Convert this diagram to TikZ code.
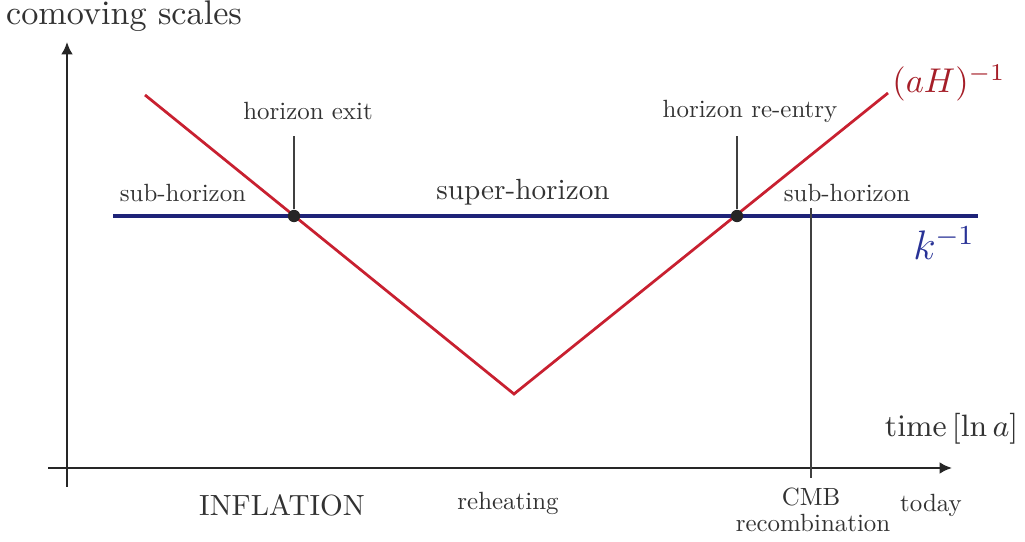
\documentclass[tikz,border=0pt]{standalone}
\usetikzlibrary{arrows.meta}
\definecolor{redline}{RGB}{200,32,48}
\definecolor{redlabel}{RGB}{165,30,40}
\definecolor{blueline}{RGB}{30,35,120}
\definecolor{bluelabel}{RGB}{40,50,150}
\definecolor{txt}{RGB}{50,50,50}
\tikzset{
  axis/.style={line width=0.6pt, draw=black!85, -{Latex[length=3.6pt,width=3.4pt]}},
  marker/.style={line width=0.4pt, draw=black!75},
  redcurve/.style={line width=0.8pt, draw=redline, line join=miter},
  bluecurve/.style={line width=1.3pt, draw=blueline},
  dot/.style={circle, fill=black!85, inner sep=0pt, minimum size=3.6pt},
  lbl/.style={text=txt, inner sep=0pt, font=\fontsize{10}{12}\selectfont, scale=0.725},
  biglbl/.style={text=txt, inner sep=0pt, font=\fontsize{10}{12}\selectfont, scale=0.85},
}
\begin{document}
\begin{tikzpicture}[x=0.291pt,y=-0.291pt]
\useasboundingbox (0,0) rectangle (1025,542);
% axes
\coordinate (ybot) at (67,487);
\coordinate (ytop) at (67,42);
\coordinate (xleft) at (48,468);
\coordinate (xright) at (952,468);
\draw[axis] (ybot) -- (ytop);
\draw[axis] (xleft) -- (xright);
\node[text=txt, inner sep=0pt, font=\fontsize{9.95}{12}\selectfont] (ylab) at (124,16) {comoving scales};
\node[text=txt, inner sep=0pt, anchor=east, font=\fontsize{9.5}{12}\selectfont] (xlab) at (1019,429) {$\mathrm{time}\,[\ln a]$};
% blue k^-1 line
\coordinate (b1) at (113,216);
\coordinate (b2) at (978,216);
\draw[bluecurve] (b1) -- (b2);
% red (aH)^-1
\coordinate (r1) at (145,95);
\coordinate (r2) at (514,394);
\coordinate (r3) at (888,93);
\draw[redcurve] (r1) -- (r2) -- (r3);
% crossing points
\node[dot] (exit) at (294,216) {};
\node[dot] (reentry) at (737,216) {};
\coordinate (exittop) at (294,136);
\coordinate (reentrytop) at (737,136);
\draw[marker] (exit) -- (exittop);
\draw[marker] (reentry) -- (reentrytop);
% CMB marker
\coordinate (cmbtop) at (811,208);
\coordinate (cmbbot) at (811,478);
\draw[marker] (cmbtop) -- (cmbbot);
% labels
\node[lbl] (lexit) at (308,111) {horizon exit};
\node[lbl] (lreentry) at (750,111) {horizon re-entry};
\node[lbl] (lsub1) at (183,193) {sub-horizon};
\node[biglbl] (lsuper) at (523,192) {super-horizon};
\node[lbl] (lsub2) at (847,193) {sub-horizon};
\node[text=redlabel, inner sep=0pt, font=\fontsize{10.3}{12}\selectfont] (laH) at (949,83) {$(aH)^{-1}$};
\node[text=bluelabel, inner sep=0pt, font=\fontsize{11.5}{13}\selectfont] (lk) at (944,243) {$k^{-1}$};
\node[biglbl] (linf) at (282,505) {INFLATION};
\node[lbl] (lreh) at (508,503) {reheating};
\node[lbl] (lcmb) at (811,497) {CMB};
\node[lbl] (lrec) at (813,523) {recombination};
\node[lbl] (ltoday) at (931,505) {today};
\end{tikzpicture}
\end{document}
